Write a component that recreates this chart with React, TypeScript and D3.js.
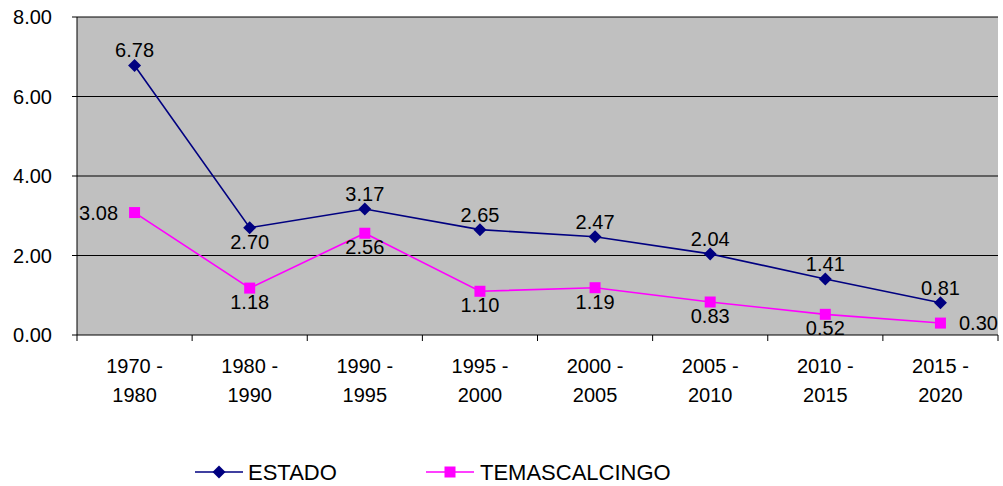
import React from "react";
import * as d3 from "d3";

const categories = [["1970 -", "1980"], ["1980 -", "1990"], ["1990 -", "1995"], ["1995 -", "2000"], ["2000 -", "2005"], ["2005 -", "2010"], ["2010 -", "2015"], ["2015 -", "2020"]];
const estado = [6.78, 2.7, 3.17, 2.65, 2.47, 2.04, 1.41, 0.81];
const temas = [3.08, 1.18, 2.56, 1.1, 1.19, 0.83, 0.52, 0.3];
const yTicks = [0, 2, 4, 6, 8];
const estadoLabelPos = ["above", "below", "above", "above", "above", "above", "above", "above"];
const temasLabelPos = ["left", "below", "below", "below", "below", "below", "below", "right"];

const W = 1003, H = 486;
const L = 77, R = 998, T = 17, B = 335;
const FONT = "Liberation Sans, Arial, sans-serif";

export default function App() {
  const x = d3.scaleBand<number>().domain(d3.range(categories.length)).range([L, R]);
  const y = d3.scaleLinear().domain([0, 8]).range([B, T]);
  const cx = (i: number) => (x(i) as number) + x.bandwidth() / 2;
  const line = d3.line<number>().x((_, i) => cx(i)).y((d) => y(d));

  const labelXY = (i: number, v: number, pos: string) => {
    const px = cx(i), py = y(v);
    if (pos === "above") return [px, py - 15];
    if (pos === "below") return [px, py + 14];
    if (pos === "left") return [px - 36, py];
    return [px + 38, py];
  };

  const diamond = (px: number, py: number, key: string) => (
    <path key={key} d={`M${px},${py - 6.5}L${px + 6.5},${py}L${px},${py + 6.5}L${px - 6.5},${py}Z`} fill="#000080" />
  );
  const square = (px: number, py: number, key: string) => (
    <rect key={key} x={px - 5.5} y={py - 5.5} width={11} height={11} fill="#FF00FF" />
  );

  return (
    <svg width={W} height={H} style={{ position: "absolute", left: 0, top: 0 }} fontFamily={FONT}>
      <rect x={0} y={0} width={W} height={H} fill="#fff" />
      <rect x={L} y={T} width={R - L} height={B - T} fill="#C0C0C0" />
      {yTicks.map((t) => (
        <g key={t}>
          {t > 0 && <line x1={L} x2={R} y1={y(t)} y2={y(t)} stroke="#000" strokeWidth={1} />}
          <line x1={L - 5} x2={L} y1={y(t)} y2={y(t)} stroke="#000" />
          <text x={52} y={y(t)} textAnchor="end" dominantBaseline="central" fontSize={20}>{t.toFixed(2)}</text>
        </g>
      ))}
      <line x1={L} x2={L} y1={T} y2={B} stroke="#000" />
      <line x1={L} x2={R} y1={B} y2={B} stroke="#000" />
      {d3.range(categories.length + 1).map((i) => {
        const px = i < categories.length ? (x(i) as number) : R;
        return <line key={i} x1={px} x2={px} y1={B} y2={B + 6} stroke="#000" />;
      })}
      {categories.map((c, i) => (
        <text key={i} x={cx(i)} textAnchor="middle" fontSize={20} dominantBaseline="central">
          <tspan x={cx(i)} y={366}>{c[0]}</tspan>
          <tspan x={cx(i)} y={395}>{c[1]}</tspan>
        </text>
      ))}
      <path d={line(estado) || ""} fill="none" stroke="#000080" strokeWidth={1.6} />
      <path d={line(temas) || ""} fill="none" stroke="#FF00FF" strokeWidth={1.6} />
      {estado.map((v, i) => diamond(cx(i), y(v), "d" + i))}
      {temas.map((v, i) => square(cx(i), y(v), "s" + i))}
      {estado.map((v, i) => {
        const [lx, ly] = labelXY(i, v, estadoLabelPos[i]);
        return <text key={"el" + i} x={lx} y={ly} textAnchor="middle" dominantBaseline="central" fontSize={20}>{v.toFixed(2)}</text>;
      })}
      {temas.map((v, i) => {
        const [lx, ly] = labelXY(i, v, temasLabelPos[i]);
        return <text key={"tl" + i} x={lx} y={ly} textAnchor="middle" dominantBaseline="central" fontSize={20}>{v.toFixed(2)}</text>;
      })}
      <g>
        <line x1={195} x2={243} y1={472} y2={472} stroke="#000080" strokeWidth={1.6} />
        {diamond(219, 472, "ld")}
        <text x={248} y={472} dominantBaseline="central" fontSize={22}>ESTADO</text>
        <line x1={426} x2={474} y1={472} y2={472} stroke="#FF00FF" strokeWidth={1.6} />
        {square(450, 472, "ls")}
        <text x={480} y={472} dominantBaseline="central" fontSize={22}>TEMASCALCINGO</text>
      </g>
    </svg>
  );
}
